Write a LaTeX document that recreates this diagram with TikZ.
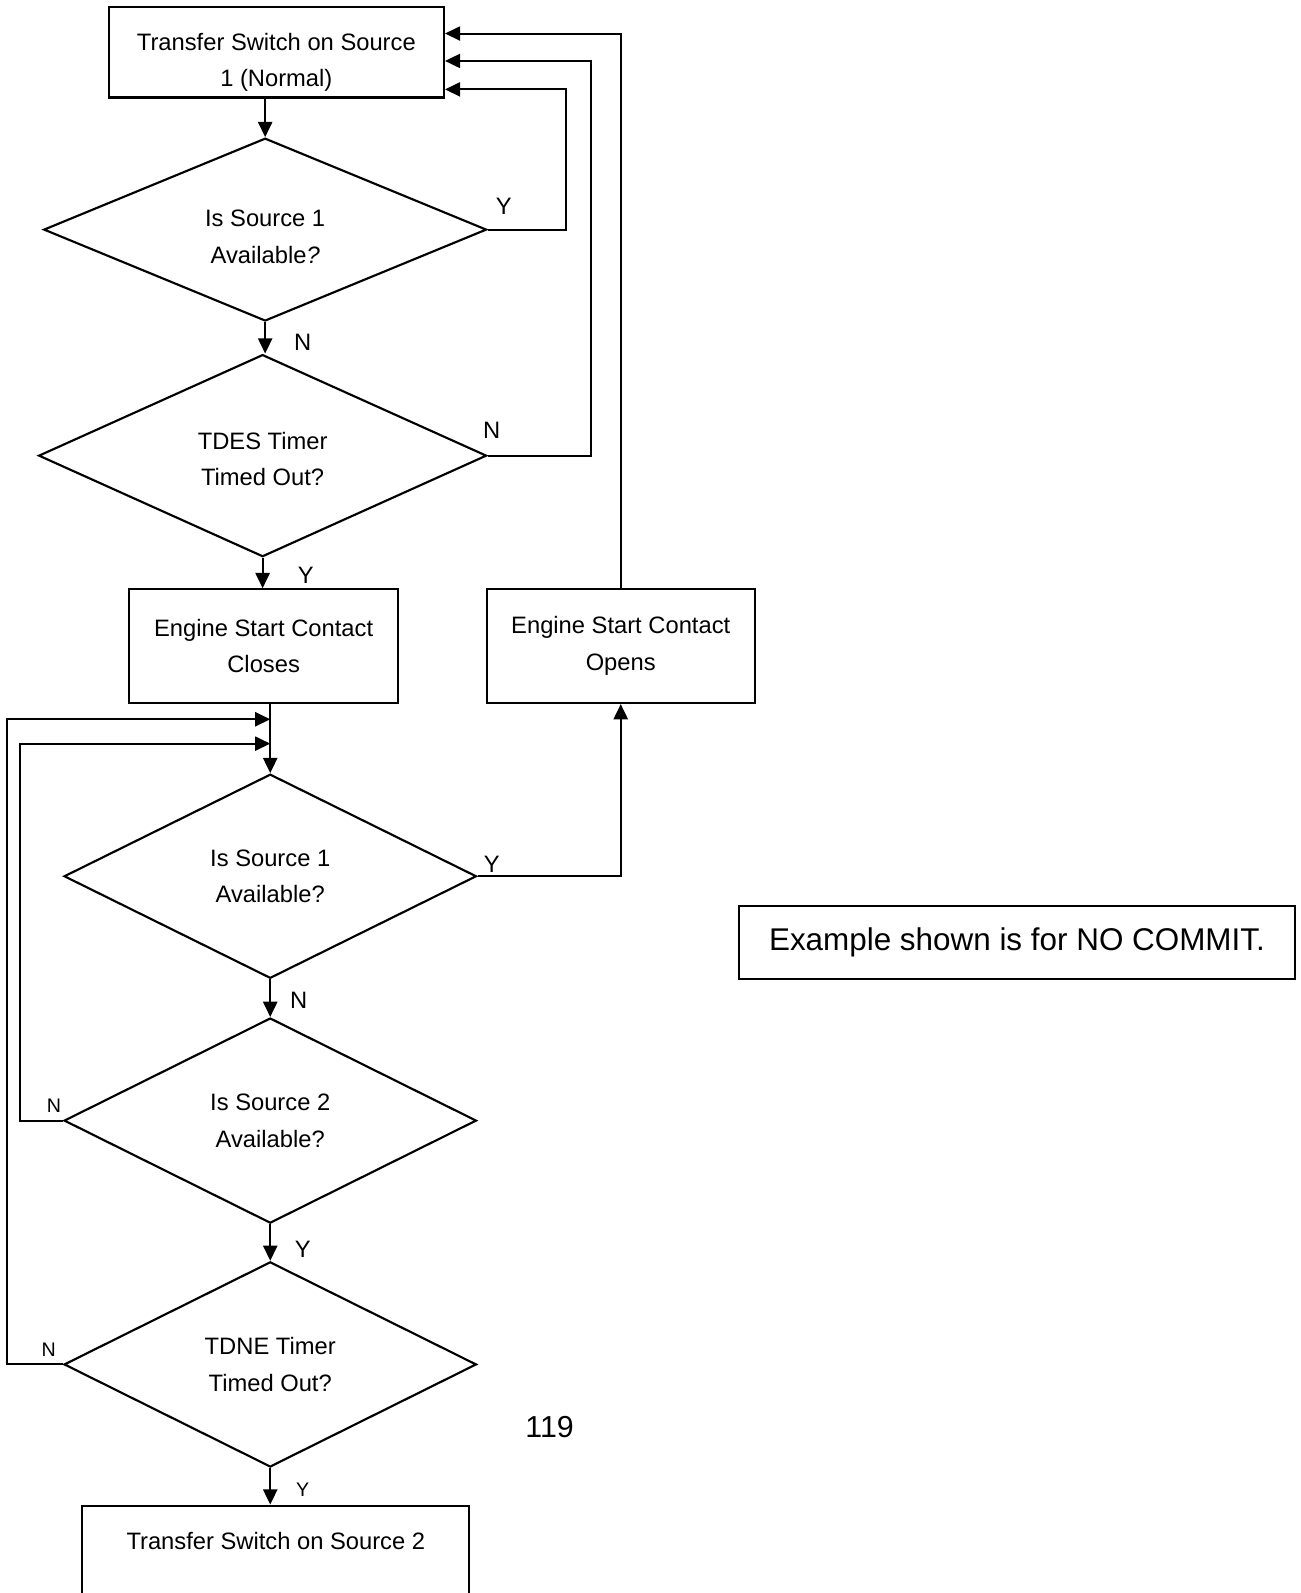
\documentclass[tikz,border=0pt]{standalone}
\usepackage{fontspec}
\setmainfont{Liberation Sans}
\usetikzlibrary{shapes.geometric,arrows.meta,calc}

\begin{document}
\begin{tikzpicture}[x=0.02cm, y=-0.02cm,
    font=\fontsize{13.3}{20.5}\selectfont,
    box/.style={draw, line width=1.2pt, align=center, inner sep=0pt},
    decision/.style={draw, diamond, aspect=2.4, line width=1.2pt, align=center, inner sep=0pt},
    flow/.style={line width=1.1pt, -{Triangle[length=0.3cm, width=0.28cm]}},
    lbl/.style={inner sep=0pt}]
    \useasboundingbox (0,0) rectangle (1280,1568);
    \clip (0,0) rectangle (1280,1568);
    % boxes
    \node[box, minimum width=6.6cm, minimum height=1.78cm, text height=41.5pt] (top) at (272,51.5) {Transfer Switch on Source\\1 (Normal)};
    \node[box, minimum width=5.3cm, minimum height=2.24cm] (closes) at (259.5,636) {Engine Start Contact\\Closes};
    \node[box, minimum width=5.28cm, minimum height=2.24cm] (opens) at (611,636) {Engine Start Contact\\Opens};
    \node[box, minimum width=7.62cm, minimum height=2.12cm] (src2) at (271.5,1535) {Transfer Switch on Source 2\\ ~};
    \node[box, minimum width=10.96cm, minimum height=1.44cm, font=\fontsize{17.6}{21}\selectfont] (note) at (1001,928) {Example shown is for NO COMMIT.};
    % decisions
    \node[decision, minimum width=8.72cm, minimum height=3.6cm, text height=38pt] (chk1) at (261,226) {Is Source 1\\Available{\itshape ?}};
    \node[decision, minimum width=8.82cm, minimum height=3.98cm, text height=34pt] (tdes) at (258.5,448.5) {TDES Timer\\Timed Out?};
    \node[decision, minimum width=8.12cm, minimum height=4.02cm] (chk1b) at (266,862.5) {Is Source 1\\Available?};
    \node[decision, minimum width=8.12cm, minimum height=4.04cm] (chk2) at (266,1103) {Is Source 2\\Available?};
    \node[decision, minimum width=8.12cm, minimum height=4.04cm] (tdne) at (266,1343) {TDNE Timer\\Timed Out?};
    % main column
    \draw[flow] (chk1.north |- top.south) -- (chk1.north);
    \draw[flow] (chk1.south) -- (chk1.south |- tdes.north);
    \draw[flow] (tdes.south) -- (tdes.south |- closes.north);
    \draw[flow] (chk1b.north |- closes.south) -- (chk1b.north);
    \draw[flow] (chk1b.south) -- (chk2.north);
    \draw[flow] (chk2.south) -- (tdne.north);
    \draw[flow] (tdne.south) -- (tdne.south |- src2.north);
    % back to source 1
    \draw[flow] (chk1.east) -| ($(top.east)+(119,36.5)$) -- ($(top.east)+(0,36.5)$);
    \draw[flow] (tdes.east) -| ($(top.east)+(144,8.5)$) -- ($(top.east)+(0,8.5)$);
    \draw[flow] (opens.north) |- ($(top.east)+(0,-18.5)$);
    \draw[flow] (chk1b.east) -| (opens.south);
    % loops back above the second check
    \draw[flow] (chk2.west) -- ++(-42,0) |- ($(chk1b.north)+(0,-29)$);
    \draw[flow] (tdne.west) -- ++(-55,0) |- ($(chk1b.north)+(0,-53)$);
    % branch labels
    \node[lbl] (y1) at (496,203) {Y};
    \node[lbl] (n1) at (298,337) {N};
    \node[lbl] (n2) at (484,424) {N};
    \node[lbl] (y2) at (301,566) {Y};
    \node[lbl] (y3) at (484,851) {Y};
    \node[lbl] (n3) at (294,985) {N};
    \node[lbl, font=\fontsize{11}{13}\selectfont] (n4) at (53,1088) {N};
    \node[lbl] (y4) at (298,1230) {Y};
    \node[lbl, font=\fontsize{11}{13}\selectfont] (n5) at (48,1329) {N};
    \node[lbl, font=\fontsize{11}{13}\selectfont] (y5) at (298,1466) {Y};
    \node[font=\fontsize{17}{20}\selectfont] (page) at (541,1405) {119};
\end{tikzpicture}
\end{document}
